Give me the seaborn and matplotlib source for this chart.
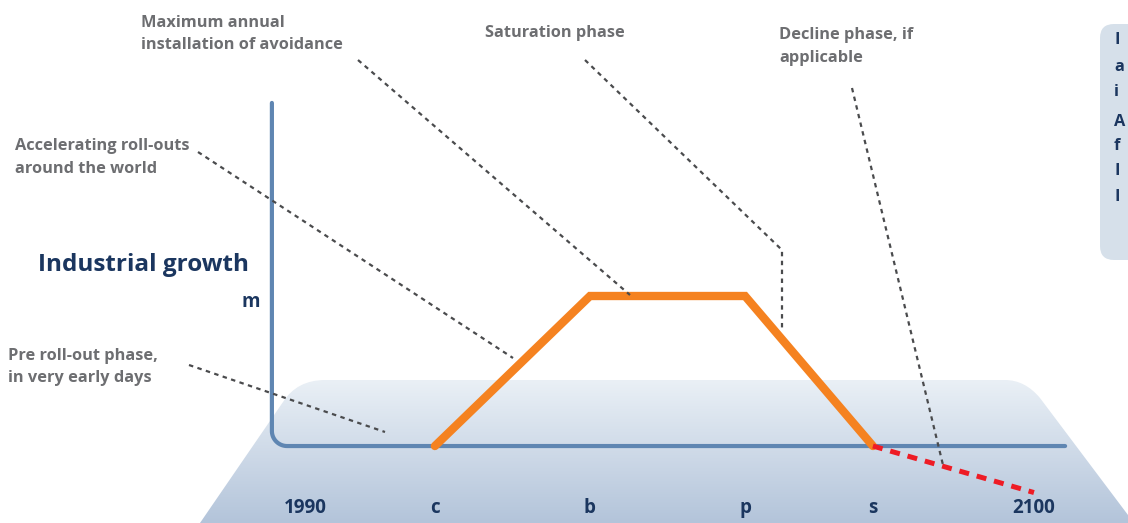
import matplotlib
matplotlib.use('Agg')
import matplotlib.pyplot as plt
import matplotlib.transforms as mtransforms
from matplotlib.path import Path
from matplotlib.patches import PathPatch, FancyBboxPatch
from matplotlib.lines import Line2D
import numpy as np
import pandas as pd
import seaborn as sns

# phase years (c, b, p, s) and the relative growth level at each
phase_labels = ['c', 'b', 'p', 's']
phase_years = [2009.6, 2033.0, 2056.4, 2075.7]
phase_levels = [0.0, 1.0, 1.0, 0.0]

# optional decline after saturation
decline_years = [2075.7, 2100.0]
decline_levels = [0.0, -0.31]

tick_years = [1990, 2009.6, 2033.0, 2056.4, 2075.7, 2100]
tick_labels = ['1990', 'c', 'b', 'p', 's', '2100']

NAVY = '#1b365f'
GREY = '#6d6e71'
AXIS_BLUE = '#5f86b2'
ORANGE = '#f58220'
RED = '#ee1c25'
LEADER = '#4a4b4d'

sns.set_style('white')
plt.rcParams['font.family'] = ['Open Sans', 'DejaVu Sans']

W, H = 1128, 523
fig = plt.figure(figsize=(W / 100, H / 100), dpi=100)
ax = fig.add_axes([0, 0, 1, 1])
ax.set_axis_off()

# pixel coords (origin top-left) for the decorative parts
pix = mtransforms.Affine2D().scale(1 / W, -1 / H).translate(0, 1) + fig.transFigure

# background "floor" with a vertical gradient
verts = [(200, 523), (283, 402), (297, 380), (325, 380), (1005, 380),
         (1025, 380), (1040, 398), (1128, 515), (1128, 523), (200, 523)]
codes = [Path.MOVETO, Path.LINETO, Path.CURVE3, Path.CURVE3, Path.LINETO,
         Path.CURVE3, Path.CURVE3, Path.LINETO, Path.LINETO, Path.CLOSEPOLY]
floor = PathPatch(Path(verts, codes), facecolor='none', edgecolor='none', transform=pix)
ax.add_patch(floor)
grad = np.linspace(0, 1, 256).reshape(-1, 1)
cmap = matplotlib.colors.LinearSegmentedColormap.from_list('floor', ['#eaf0f6', '#b3c4da'])
img = ax.imshow(grad, cmap=cmap, aspect='auto', origin='upper',
                extent=(200, 1128, 523, 380), transform=pix, zorder=0)
img.set_clip_path(floor)

# data limits chosen so 1990 -> 305px, 2100 -> 1034px, level 0 -> 446px, 1 -> 296px
ax.set_xlim(1943.97, 2114.19)
ax.set_ylim(-0.513, 2.973)

# L-shaped axis with a rounded corner
rx, ry = 2.3, 0.1
theta = np.linspace(np.pi, 1.5 * np.pi, 20)
corner_x = 1985.0 + rx + rx * np.cos(theta)
corner_y = ry + ry * np.sin(theta)
axis_x = np.concatenate([[1985.0], corner_x, [2104.7]])
axis_y = np.concatenate([[2.287], corner_y, [0.0]])
ax.plot(axis_x, axis_y, color=AXIS_BLUE, lw=3, solid_capstyle='round', zorder=2)

df_phase = pd.DataFrame({'year': phase_years, 'level': phase_levels})
sns.lineplot(data=df_phase, x='year', y='level', ax=ax, color=ORANGE, lw=6,
             sort=False, zorder=3)
ax.lines[-1].set_solid_joinstyle('miter')
df_decline = pd.DataFrame({'year': decline_years, 'level': decline_levels})
sns.lineplot(data=df_decline, x='year', y='level', ax=ax, color=RED, lw=3.6,
             linestyle=(0, (2, 1.6)), zorder=3)

ax.set_xlim(1943.97, 2114.19)
ax.set_ylim(-0.513, 2.973)

for yr, lab in zip(tick_years, tick_labels):
    ax.text(yr, -0.41, lab, ha='center', va='center', fontsize=13.5,
            fontweight='bold', color=NAVY, zorder=4)
ax.text(1981.8, 0.96, 'm', ha='center', va='center', fontsize=13.5,
        fontweight='bold', color=NAVY)

# annotation texts
ax.text(38, 265, 'Industrial growth', transform=pix, ha='left', va='center',
        fontsize=17.5, fontweight='bold', color=NAVY)
notes = [
    (141, 34, 'left', 'Maximum annual\ninstallation of avoidance'),
    (555, 33, 'center', 'Saturation phase'),
    (779, 46.5, 'left', 'Decline phase, if\napplicable'),
    (15, 157.5, 'left', 'Accelerating roll-outs\naround the world'),
    (8, 367, 'left', 'Pre roll-out phase,\nin very early days'),
]
for x, y, ha, s in notes:
    ax.text(x, y, s, transform=pix, ha=ha, va='center', fontsize=11.8,
            fontweight='bold', color=GREY, linespacing=1.55)

# dotted leader lines
leaders = [
    ([358, 630], [60, 295]),
    ([585, 782, 782], [60, 250, 330]),
    ([852, 943], [88, 465]),
    ([198, 513], [152, 358]),
    ([189, 385], [365, 432]),
]
for xs, ys in leaders:
    fig.add_artist(Line2D(xs, ys, transform=pix, color=LEADER, lw=1.6,
                          linestyle=(0, (2, 2)), zorder=5))

# side panel, cut off at the right edge
box = FancyBboxPatch((1100, 24), 80, 236, boxstyle='round,pad=0,rounding_size=14',
                     transform=pix, facecolor='#d6e0ea', edgecolor='none', zorder=1)
ax.add_patch(box)
side_letters = ['I', 'a', 'i', 'A', 'f', 'I', 'I']
side_y = [40, 67, 92, 122, 146, 171, 197]
for y, s in zip(side_y, side_letters):
    ax.text(1114, y, s, transform=pix, ha='left', va='center', fontsize=11.8,
            fontweight='bold', color=NAVY, zorder=2)

fig.savefig('out.png', dpi=100)
